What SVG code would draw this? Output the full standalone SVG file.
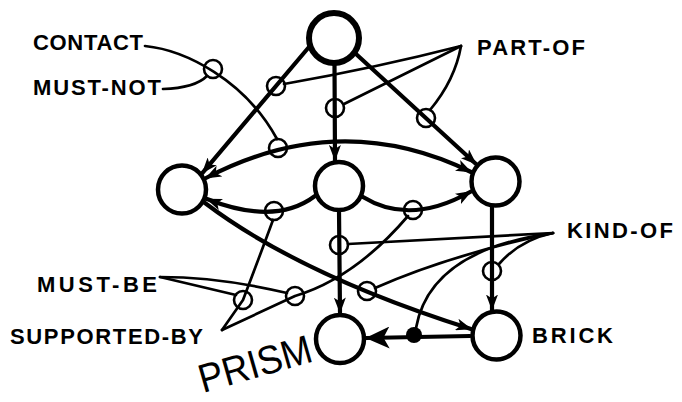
<svg xmlns="http://www.w3.org/2000/svg" width="682" height="402" viewBox="0 0 682 402">
<style>
.edge{fill:none;stroke:#000;stroke-width:4.2;stroke-linecap:round}
.thin{fill:none;stroke:#000;stroke-width:2.7;stroke-linecap:round;stroke-linejoin:round}
.node{fill:#fff;stroke:#000;stroke-width:4.5}
.rel{fill:none;stroke:#000;stroke-width:2.6}
.lbl{font-family:"Liberation Sans",Arial,sans-serif;font-weight:bold;font-size:22px;fill:#000}
.hand{font-family:"Liberation Sans",Arial,sans-serif;font-size:40px;fill:#000}
</style>
<defs>
<marker id="arr" viewBox="0 0 16 12" refX="15" refY="6" markerWidth="16" markerHeight="12" markerUnits="userSpaceOnUse" orient="auto-start-reverse">
<path d="M0,0 L16,6 L0,12 L4,6 Z" fill="#000"/>
</marker>
<marker id="big" viewBox="0 0 24 22" refX="23" refY="11" markerWidth="24" markerHeight="22" markerUnits="userSpaceOnUse" orient="auto">
<path d="M0,0 L24,11 L0,22 L6,11 Z" fill="#000"/>
</marker>
</defs>
<g id="connectors">
<path class="edge" d="M309,47 L202.5,172.8" marker-end="url(#arr)"/>
<path class="edge" d="M334.5,64 L335,160" marker-end="url(#arr)"/>
<path class="edge" d="M356,54 L476,164" marker-end="url(#arr)"/>
<path class="edge" d="M206,178 Q340,108 471,172" marker-start="url(#arr)" marker-end="url(#arr)"/>
<path class="edge" d="M315,196 Q275,226 207,199" marker-end="url(#arr)"/>
<path class="edge" d="M363,197 Q410,226 471,191.5" marker-end="url(#arr)"/>
<path class="edge" d="M339,210 L340,312.5" marker-end="url(#arr)"/>
<path class="edge" d="M492,206 L492,309.5" marker-end="url(#arr)"/>
<path class="edge" d="M205,203 Q300,275 471,329" marker-end="url(#arr)"/>
<path class="edge" d="M470,336 L366.5,338" marker-end="url(#big)"/>
<path class="thin" d="M461,46 Q375,68 284,84"/>
<path class="thin" d="M461,46 L344,104"/>
<path class="thin" d="M461,46 Q455,80 430,110"/>
<path class="thin" d="M145,46 C185,50 245,80 277,139"/>
<path class="thin" d="M163,89 Q195,88 207,76"/>
<path class="thin" d="M553,233 L348,244"/>
<path class="thin" d="M553,233 Q450,255 375,288"/>
<path class="thin" d="M553,233 Q430,250 416,328"/>
<path class="thin" d="M553,233 Q520,240 499,264"/>
<path class="thin" d="M160,277 L236,295"/>
<path class="thin" d="M160,277 Q220,277 287,293"/>
<path class="thin" d="M222,330 L243,300 Q262,250 273,220"/>
<path class="thin" d="M222,330 L295,296 Q355,278 408,216"/>
</g>
<g id="rel-nodes">
<circle class="rel" cx="213" cy="69" r="9"/>
<circle class="rel" cx="276" cy="86" r="9"/>
<circle class="rel" cx="335" cy="108" r="9"/>
<circle class="rel" cx="426" cy="118" r="9"/>
<circle class="rel" cx="278" cy="148" r="9"/>
<circle class="rel" cx="274" cy="211" r="9"/>
<circle class="rel" cx="413" cy="210" r="9"/>
<circle class="rel" cx="339" cy="245" r="9"/>
<circle class="rel" cx="367" cy="291" r="9"/>
<circle class="rel" cx="492" cy="271" r="9"/>
<circle class="rel" cx="243" cy="300" r="9"/>
<circle class="rel" cx="295" cy="296" r="9"/>
<circle cx="414" cy="335" r="8" fill="#000"/>
</g>
<g id="arch"><circle class="node" cx="334" cy="38" r="25" style="stroke-width:6"/></g>
<g id="left-post"><circle class="node" cx="182" cy="189.5" r="24"/></g>
<g id="lintel"><circle class="node" cx="339" cy="186" r="24"/></g>
<g id="right-post"><circle class="node" cx="495.5" cy="181.5" r="24"/></g>
<g id="prism"><circle class="node" cx="340" cy="339" r="24"/>
<text class="hand" transform="translate(203,393) rotate(-16)" textLength="116" lengthAdjust="spacingAndGlyphs">PRISM</text></g>
<g id="brick"><circle class="node" cx="496.5" cy="335.5" r="24"/>
<text class="lbl" x="532" y="343" textLength="81">BRICK</text></g>
<g id="labels">
<text class="lbl" x="33" y="50" textLength="110">CONTACT</text>
<text class="lbl" x="33" y="95" textLength="128">MUST-NOT</text>
<text class="lbl" x="477" y="55" textLength="108">PART-OF</text>
<text class="lbl" x="567" y="238" textLength="106">KIND-OF</text>
<text class="lbl" x="37" y="292" textLength="120">MUST-BE</text>
<text class="lbl" x="10" y="344" textLength="193">SUPPORTED-BY</text>
</g>
</svg>
